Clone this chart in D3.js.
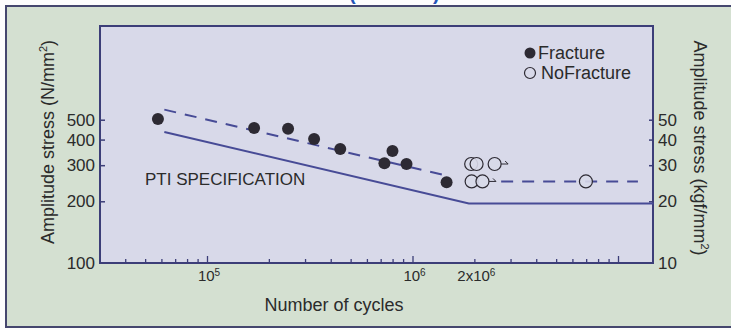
<!DOCTYPE html>
<html>
  <head>
    <script src="https://d3js.org/d3.v7.min.js"></script>
    <style>
      body { margin: 0; background: #fdfdfd; }
      text { font-family: "Liberation Sans", Arial, sans-serif; fill: #2b2b2b; }
    </style>
  </head>
  <body>
    <svg id="chart" width="731" height="330"></svg>
    <script>
      // fatigue test results (cycles, N/mm2)
      const fractureCycles = [57700, 169500, 248000, 332000, 445000, 799000, 730000, 935000, 1465000];
      const fractureStress = [504, 456, 452, 403, 360, 352, 307, 304, 248];
      const noFractureCycles = [1.93e6, 2.05e6, 2.51e6, 1.94e6, 2.19e6, 6.98e6];
      const noFractureStress = [304, 304, 304, 250, 250, 250];
      const runoutArrows = [2, 4]; // index of point that gets an arrow

      // fitted (dashed) line and PTI specification (solid)
      const fitSloped = [[6.2e4, 560], [1.48e6, 266]];
      const fitFlat = [[2.7e6, 250], [1.25e7, 250]];
      const ptiSpec = [[6.2e4, 436], [1.88e6, 195], [1.49e7, 195]];

      const yTicksN = [500, 400, 300, 200, 100];
      const yTicksKgf = [50, 40, 30, 20, 10];
      const xLabelTicks = [
        { v: 1e5, base: "10", sup: "5" },
        { v: 1e6, base: "10", sup: "6" },
        { v: 2e6, base: "2x10", sup: "6" }
      ];
      const legendItems = ["Fracture", "NoFracture"];

      const plotL = 100, plotR = 653, plotT = 26, plotB = 263;
      const lineColor = "#474b96", frameColor = "#3c3e78", plotBg = "#d8d9e9";

      const svg = d3.select("#chart");

      // log scales, one decade = 205px
      const x = d3.scaleLog().domain([1e5, 1e6]).range([207, 412.5]);
      const y = d3.scaleLog().domain([100, 1000]).range([plotB, plotB - 205]);
      const yKgf = d3.scaleLog().domain([10, 100]).range([plotB, plotB - 205]);

      // outer panel
      svg.append("rect").attr("x", 6).attr("y", 6).attr("width", 730).attr("height", 321)
        .attr("fill", "#d4e0d1").attr("stroke", "#45476e").attr("stroke-width", 2);

      // title, cut off by the top of the picture
      svg.append("text").attr("x", 349).attr("y", 0).attr("font-size", 20)
        .attr("font-weight", "bold").style("fill", "#2456b8").text("(");
      svg.append("text").attr("x", 433).attr("y", 0).attr("font-size", 20)
        .attr("font-weight", "bold").style("fill", "#2456b8").text(")");

      // plot area
      svg.append("rect").attr("x", plotL).attr("y", plotT).attr("width", plotR - plotL)
        .attr("height", plotB - plotT).attr("fill", plotBg)
        .attr("stroke", frameColor).attr("stroke-width", 2);

      // x ticks (inside)
      const minor = [];
      for (let e = 4; e <= 6; e++) {
        for (let m = 1; m <= 9; m++) {
          const v = m * Math.pow(10, e);
          if (v >= 3e4) minor.push(v);
        }
      }
      minor.push(1e7);
      svg.append("g").attr("transform", "translate(0," + plotB + ")")
        .call(d3.axisTop(x).tickValues(minor).tickSize(4).tickFormat(""))
        .call((g) => g.select(".domain").remove())
        .call((g) => g.selectAll("line").attr("stroke", frameColor).attr("stroke-width", 1.3)
          .attr("y2", (d) => (d === 1e5 || d === 1e6 || d === 1e7 ? -7 : -4)));

      xLabelTicks.forEach((t) => {
        const txt = svg.append("text").attr("x", x(t.v) + 2).attr("y", 281)
          .attr("font-size", 15).attr("text-anchor", "middle");
        txt.append("tspan").text(t.base);
        txt.append("tspan").attr("font-size", 10).attr("dy", -5).text(t.sup);
      });

      // left axis
      svg.append("g").attr("transform", "translate(" + plotL + ",0)")
        .call(d3.axisRight(y).tickValues(yTicksN.slice(0, 4)).tickSize(5).tickFormat(""))
        .call((g) => g.select(".domain").remove())
        .call((g) => g.selectAll("line").attr("stroke", frameColor).attr("stroke-width", 1.5));
      svg.append("g").selectAll("text").data(yTicksN).join("text")
        .attr("x", 95).attr("y", (d) => y(d)).attr("dy", "0.36em")
        .attr("text-anchor", "end").attr("font-size", 17).text((d) => d);

      // right axis
      svg.append("g").attr("transform", "translate(" + plotR + ",0)")
        .call(d3.axisLeft(yKgf).tickValues(yTicksKgf.slice(0, 4)).tickSize(4).tickFormat(""))
        .call((g) => g.select(".domain").remove())
        .call((g) => g.selectAll("line").attr("stroke", frameColor).attr("stroke-width", 1.5));
      svg.append("g").selectAll("text").data(yTicksKgf).join("text")
        .attr("x", 658).attr("y", (d) => yKgf(d)).attr("dy", "0.36em")
        .attr("font-size", 17).text((d) => d);

      // axis titles
      const yl = svg.append("text").attr("transform", "translate(54,142) rotate(-90)")
        .attr("text-anchor", "middle").attr("font-size", 18);
      yl.append("tspan").text("Amplitude stress (N/mm");
      yl.append("tspan").attr("font-size", 11).attr("dy", -7).text("2");
      yl.append("tspan").attr("dy", 7).text(")");

      const yr = svg.append("text").attr("transform", "translate(694,148) rotate(90)")
        .attr("text-anchor", "middle").attr("font-size", 18);
      yr.append("tspan").text("Amplitude stress (kgf/mm");
      yr.append("tspan").attr("font-size", 11).attr("dy", -7).text("2");
      yr.append("tspan").attr("dy", 7).text(")");

      svg.append("text").attr("x", 334).attr("y", 311).attr("text-anchor", "middle")
        .attr("font-size", 18).text("Number of cycles");

      // lines
      const line = d3.line().x((d) => x(d[0])).y((d) => y(d[1]));
      svg.append("path").attr("d", line(ptiSpec)).attr("fill", "none")
        .attr("stroke", lineColor).attr("stroke-width", 2);
      [fitSloped, fitFlat].forEach((seg) => {
        svg.append("path").attr("d", line(seg)).attr("fill", "none")
          .attr("stroke", lineColor).attr("stroke-width", 2).attr("stroke-dasharray", "12,9");
      });

      svg.append("text").attr("x", 145).attr("y", 185).attr("font-size", 17)
        .text("PTI SPECIFICATION");

      // points
      svg.append("g").selectAll("circle").data(fractureCycles).join("circle")
        .attr("cx", (d) => x(d)).attr("cy", (d, i) => y(fractureStress[i]))
        .attr("r", 6).attr("fill", "#2d2a33");

      // open circles hide the dashed line behind them
      svg.append("g").selectAll("circle").data(noFractureCycles).join("circle")
        .attr("cx", (d) => x(d)).attr("cy", (d, i) => y(noFractureStress[i]))
        .attr("r", 6.5).attr("fill", plotBg).attr("fill-opacity", 0.9)
        .attr("stroke", "#2d2a33").attr("stroke-width", 1.2);

      // small run-out arrows
      runoutArrows.forEach((i) => {
        const cx = x(noFractureCycles[i]) + 6.5, cy = y(noFractureStress[i]);
        svg.append("path")
          .attr("d", "M" + cx + "," + cy + "h7 M" + (cx + 4) + "," + (cy - 3) + "l3,3")
          .attr("fill", "none").attr("stroke", "#2d2a33").attr("stroke-width", 1);
      });

      // legend
      const legend = svg.append("g").attr("transform", "translate(530,53)");
      legend.selectAll("circle").data(legendItems).join("circle")
        .attr("cy", (d, i) => i * 20).attr("r", 5.5)
        .attr("fill", (d, i) => (i === 0 ? "#2d2a33" : "none"))
        .attr("stroke", "#2d2a33").attr("stroke-width", (d, i) => (i === 0 ? 0 : 1.2));
      legend.selectAll("text").data(legendItems).join("text")
        .attr("x", (d, i) => (i === 0 ? 8 : 11)).attr("y", (d, i) => i * 20 + 6)
        .attr("font-size", 18).text((d) => d);
    </script>
  </body>
</html>
